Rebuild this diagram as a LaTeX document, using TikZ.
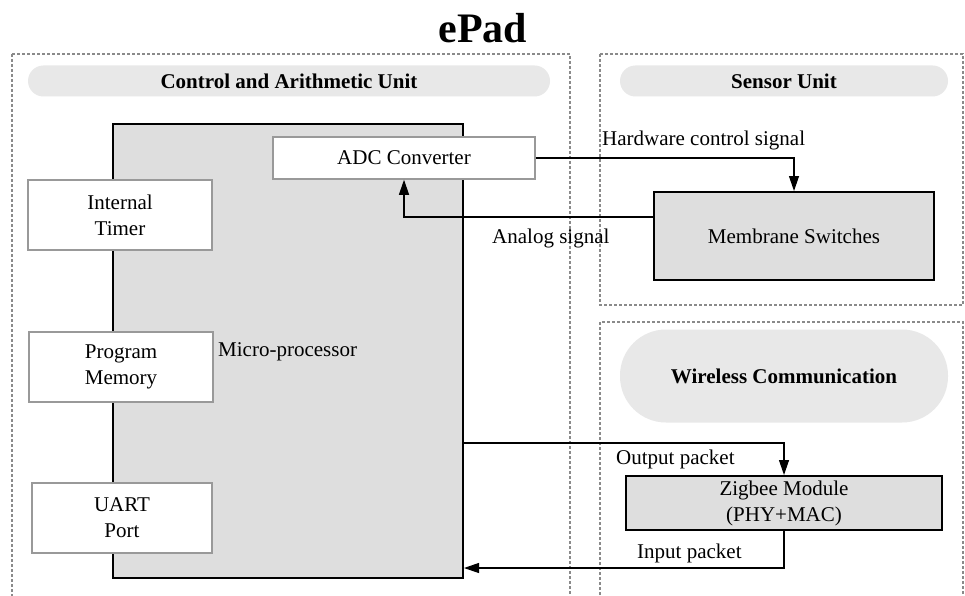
\documentclass[tikz,border=0pt]{standalone}
\usepackage{fontspec}
\setmainfont{Liberation Serif}
\usetikzlibrary{arrows.meta,calc}
\definecolor{pillgray}{HTML}{E8E8E8}
\definecolor{boxgray}{HTML}{DEDEDE}
\definecolor{dashgray}{HTML}{8A8A8A}
\definecolor{edgegray}{HTML}{999999}
\tikzset{
  region/.style={draw=dashgray, line width=1.2pt, dash pattern=on 3pt off 2pt},
  pill/.style={fill=pillgray, draw=none, inner sep=0pt, font=\fontsize{21}{25}\selectfont\bfseries},
  wbox/.style={draw=edgegray, line width=1.5pt, fill=white, inner sep=0pt, align=center, font=\fontsize{21}{26}\selectfont},
  gbox/.style={draw=black, line width=2pt, fill=boxgray, inner sep=0pt, align=center, font=\fontsize{21}{26}\selectfont},
  lbl/.style={inner sep=0pt, anchor=west, font=\fontsize{21}{25}\selectfont},
  arr/.style={draw=black, line width=1.2pt, -{Triangle[length=15pt,width=10pt]}}
}
\begin{document}
\begin{tikzpicture}[x=1pt,y=-1pt]
\useasboundingbox (0,0) rectangle (965,596);
\fill[white] (0,0) rectangle (965,596);
% title
\node[inner sep=0pt, font=\fontsize{42}{48}\selectfont\bfseries] (title) at (483,28) {ePad};
% regions
\draw[region] (12,54) -- (570,54) -- (570,600);
\draw[region] (12,54) -- (12,600);
\draw[region] (600,54) rectangle (963,305);
\draw[region] (600,600) -- (600,322) -- (963,322) -- (963,600);
% pills
\node[pill, minimum width=522pt, minimum height=31pt, rounded corners=15.5pt] (p1) at (289,81) {Control and Arithmetic Unit};
\node[pill, minimum width=328pt, minimum height=31pt, rounded corners=15.5pt] (p2) at (784,81) {Sensor Unit};
\node[pill, minimum width=328pt, minimum height=93pt, rounded corners=46pt] (p3) at (784,376) {Wireless Communication};
% micro-processor
\node[draw=black, line width=2pt, fill=boxgray, minimum width=350pt, minimum height=454pt, inner sep=0pt] (micro) at (288,351) {};
\node[lbl] (mlabel) at (218,352) {Micro-processor};
% white boxes
\node[wbox, minimum width=262pt, minimum height=42pt] (adc) at (404,158) {ADC Converter};
\node[wbox, minimum width=184pt, minimum height=70pt] (timer) at (120,215) {Internal\\Timer};
\node[wbox, minimum width=184pt, minimum height=70pt] (prog) at (121,367) {Program\\Memory};
\node[wbox, minimum width=180pt, minimum height=70pt] (uart) at (122,518) {UART\\Port};
% gray boxes
\node[gbox, minimum width=280pt, minimum height=88pt] (mem) at (794,236) {Membrane Switches};
\node[gbox, minimum width=316pt, minimum height=54pt] (zig) at (784,503) {Zigbee Module\\(PHY+MAC)};
% connectors
\draw[arr] (adc.east) -| (mem.north);
\draw[arr] ([yshift=19pt]mem.west) -| (adc.south);
\draw[arr] ([yshift=-92pt]micro.east) -| (zig.north);
\draw[arr] (zig.south) |- ([yshift=-217pt]micro.east);
% labels
\node[lbl] (hw) at (602,140) {Hardware control signal};
\node[lbl] (an) at (492,238) {Analog signal};
\node[lbl] (op) at (616,459) {Output packet};
\node[lbl] (ip) at (637,553) {Input packet};
\end{tikzpicture}
\end{document}
